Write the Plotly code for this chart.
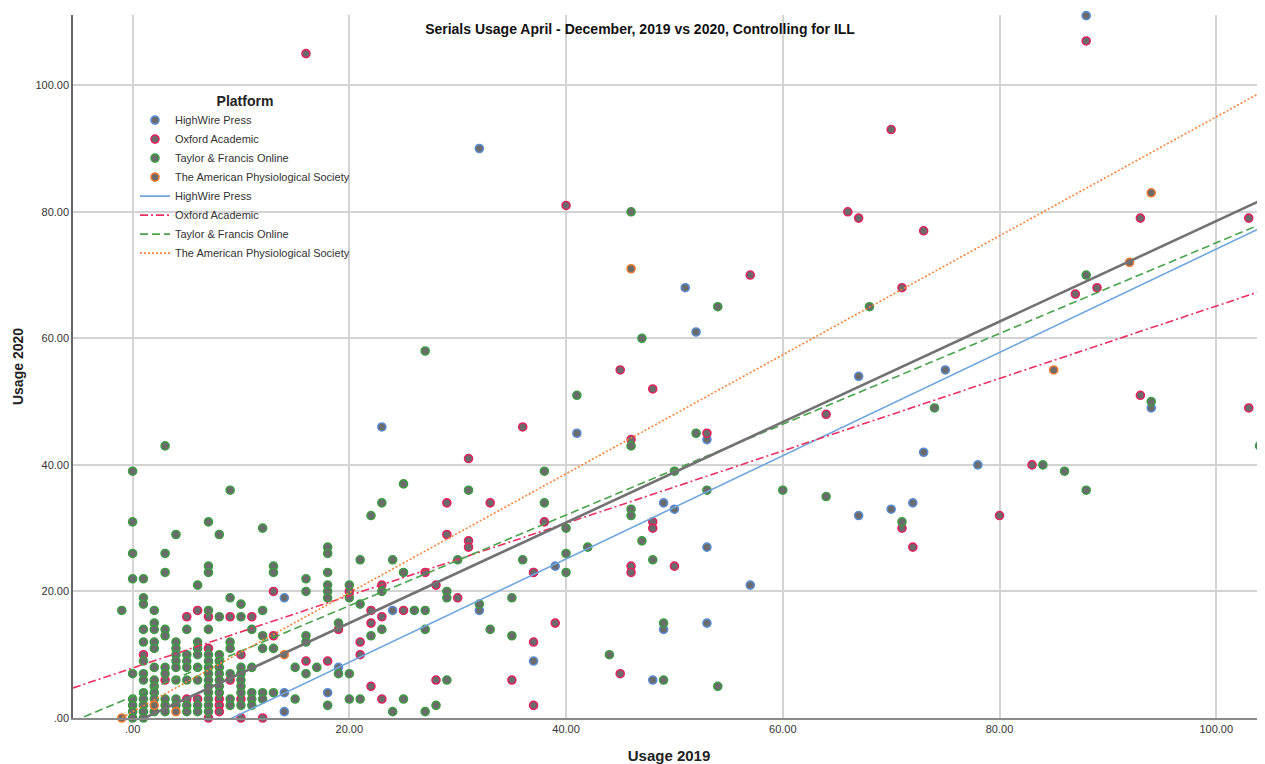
import plotly.graph_objects as go
import numpy as np

# ---------------- data ----------------
platforms = ["HighWire Press", "Oxford Academic", "Taylor & Francis Online",
             "The American Physiological Society"]

highwire_pts = [(88,111),(32,90),(51,68),(52,61),(67,54),(75,55),(23,46),(41,45),(53,44),
                (73,42),(78,40),(94,49),(49,34),(50,33),(72,34),(70,33),(67,32),(53,27),
                (57,21),(39,24),(37,23),(24,17),(32,17),(49,14),(53,15),(48,6),(37,9),
                (19,8),(14,19),(14,4),(14,1),(18,4)]

oxford_pts = [(16,105),(88,107),(70,93),(40,81),(66,80),(67,79),(73,77),(93,79),(103,79),
              (57,70),(71,68),(89,68),(87,67),(45,55),(48,52),(93,51),(103,49),(64,48),
              (36,46),(53,45),(46,44),(31,41),(83,40),(29,34),(33,34),(80,32),(38,31),
              (48,31),(48,30),(71,30),(29,29),(31,28),(31,27),(72,27),(27,23),(37,23),
              (46,24),(46,23),(50,24),(23,21),(28,21),(20,20),(30,19),(22,17),(25,17),
              (23,16),(22,15),(39,15),(19,14),(21,12),(37,12),(21,10),(18,9),(16,9),
              (45,7),(28,6),(35,6),(22,5),(23,3),(37,2),(13,20),(13,13),(5,16),(6,17),
              (7,16),(9,16),(11,16),(1,10),(7,11),(10,10),(3,6),(9,6),(5,3),(6,3),(8,3),
              (8,2),(8,1),(10,3),(7,0),(10,0),(12,0)]

tandf_pts = [(46,80),(68,65),(54,65),(47,60),(27,58),(41,51),(52,45),(46,43),(74,49),
             (94,50),(104,43),(84,40),(86,39),(88,36),(88,70),(50,39),(53,36),(60,36),
             (64,35),(46,33),(46,32),(47,28),(71,31),(48,25),(49,15),(49,6),(54,5),
             (44,10),(105,10),
             (3,43),(0,39),(9,36),(0,31),(7,31),(4,29),(8,29),(12,30),(0,26),(3,26),
             (18,27),(18,26),(7,24),(7,23),(13,24),(13,23),(3,23),(18,23),(0,22),(1,22),
             (16,22),(16,20),(18,21),(18,20),(18,19),(6,21),(-1,17),(1,19),(1,18),(2,17),
             (9,19),(10,18),(12,17),(7,17),(8,16),(10,16),(11,14),(13,11),(16,13),(16,12),
             (19,15),(12,13),(12,11),(15,8),(16,7),(17,8),(12,4),(13,4),(15,3),(18,2),
             (25,37),(23,34),(22,32),(31,36),(38,39),(38,34),(40,30),(42,27),(21,25),
             (24,25),(30,25),(36,25),(40,26),(40,23),(25,23),(20,21),(20,19),(23,20),
             (21,18),(26,17),(27,17),(29,20),(29,19),(32,18),(35,19),(22,13),(23,14),
             (27,14),(33,14),(35,13),(20,7),(19,7),(29,6),(20,3),(21,3),(25,3),(24,1),
             (27,1),(28,2),
             (0,7),(0,3),(0,2),(0,1),(0,0),
             (1,14),(1,12),(1,9),(1,7),(1,6),(1,4),(1,3),(1,2),(1,1),(1,0),
             (2,15),(2,14),(2,12),(2,11),(2,8),(2,6),(2,5),(2,4),(2,3),(2,1),
             (3,14),(3,13),(3,8),(3,7),(3,3),(3,2),(3,1),
             (4,12),(4,11),(4,10),(4,9),(4,8),(4,6),(4,3),(4,2),
             (5,14),(5,10),(5,9),(5,8),(5,6),(5,2),(5,1),
             (6,12),(6,11),(6,10),(6,8),(6,6),(6,2),(6,1),
             (7,14),(7,10),(7,9),(7,8),(7,7),(7,6),(7,5),(7,4),(7,3),(7,2),(7,1),
             (8,10),(8,9),(8,8),(8,7),(8,6),(8,5),(8,4),
             (9,12),(9,11),(9,7),(9,3),(9,2),
             (10,8),(10,7),(10,6),(10,5),(10,4),(10,2),
             (11,8),(11,4),(11,3),(11,2),
             (12,3)]

aps_pts = [(46,71),(94,83),(92,72),(85,55),(14,10),(-1,0),(2,2),(4,1)]

# fit lines: (slope, intercept)
fit_highwire = (0.816, -7.5)
fit_oxford = (0.572, 7.9)
fit_tandf = (0.717, 3.4)
fit_aps = (0.94, 1.0)
fit_total = (0.794, -0.87)

x_tickvals = [0, 20, 40, 60, 80, 100]
x_ticktext = [".00", "20.00", "40.00", "60.00", "80.00", "100.00"]
y_tickvals = [0, 20, 40, 60, 80, 100]
y_ticktext = [".00", "20.00", "40.00", "60.00", "80.00", "100.00"]

# ---------------- style ----------------
outline_colors = ["#5b8bd0", "#e0245e", "#3f9a45", "#f07a32"]
line_colors = ["#6fa6dc", "#ea2f62", "#49a34b", "#f5843a"]
line_dashes = ["solid", "8px,3px,2px,3px", "8px,4px", "2px,2px"]
fill_color = "#6b6b6b"
FONT = "Liberation Sans, Arial, sans-serif"

XR = [-5.5, 104.5]
YR = [0, 111.1]

# page body has an 8px default margin -> figure sized/offset to compensate
W, H = 1257, 756

fig = go.Figure()

for name, pts, oc in zip(platforms, [highwire_pts, oxford_pts, tandf_pts, aps_pts], outline_colors):
    xs = [p[0] for p in pts]
    ys = [p[1] for p in pts]
    fig.add_trace(go.Scatter(
        x=xs, y=ys, mode="markers", name=name, cliponaxis=False,
        marker=dict(size=8, color=fill_color, line=dict(color=oc, width=1.6)),
    ))

xline = np.array(XR)
for name, fit, lc, ld in zip(platforms, [fit_highwire, fit_oxford, fit_tandf, fit_aps],
                             line_colors, line_dashes):
    fig.add_trace(go.Scatter(
        x=xline, y=fit[0] * xline + fit[1], mode="lines", name=name,
        line=dict(color=lc, width=1.6, dash=ld),
    ))

fig.add_trace(go.Scatter(
    x=xline, y=fit_total[0] * xline + fit_total[1], mode="lines", showlegend=False,
    line=dict(color="#727272", width=2.6),
))

fig.update_layout(
    width=W, height=H,
    margin=dict(l=65, r=0, t=7, b=46, autoexpand=False),
    paper_bgcolor="white", plot_bgcolor="white",
    font=dict(family=FONT, color="#222"),
    title=dict(text="<b>Serials Usage April - December, 2019 vs 2020, Controlling for ILL</b>",
               x=632 / W, xref="container", xanchor="center",
               y=1 - 21 / H, yref="container", yanchor="middle",
               font=dict(family="Liberation Sans Narrow, Arial Narrow, Liberation Sans, sans-serif",
                         size=14, color="#111")),
    showlegend=True,
    legend=dict(x=0.052, y=0.897, xanchor="left", yanchor="top",
                bgcolor="rgba(0,0,0,0)", borderwidth=0,
                font=dict(family=FONT, size=11, color="#333"),
                title=dict(text="<b>Platform</b>", side="top center",
                           font=dict(family=FONT, size=14, color="#222")),
                tracegroupgap=0),
)

fig.update_xaxes(
    range=XR, tickvals=x_tickvals, ticktext=x_ticktext, automargin=False,
    showgrid=True, gridcolor="#d3d3d3", gridwidth=1.5, zeroline=False,
    showline=True, linecolor="#8a8a8a", linewidth=2,
    ticks="", tickfont=dict(family=FONT, size=11, color="#333"),
    title=dict(text="<b>Usage 2019</b>", font=dict(family=FONT, size=15, color="#222"), standoff=17),
)
fig.update_yaxes(
    range=YR, tickvals=y_tickvals, ticktext=y_ticktext, automargin=False,
    showgrid=True, gridcolor="#d3d3d3", gridwidth=1.5, zeroline=False,
    showline=True, linecolor="#666666", linewidth=1.5,
    ticks="", tickfont=dict(family=FONT, size=11, color="#333"),
    title=dict(text="<b>Usage 2020</b>", font=dict(family=FONT, size=14, color="#222"), standoff=8),
)

fig.write_html("out.html")
